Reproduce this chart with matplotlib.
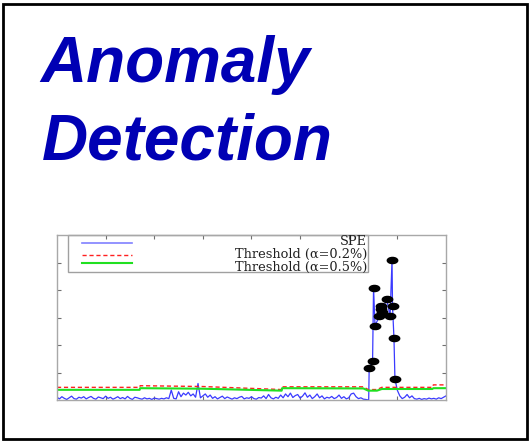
import matplotlib
matplotlib.use("Agg")
import matplotlib.pyplot as plt
from matplotlib.patches import Rectangle
from matplotlib.lines import Line2D
from matplotlib.path import Path
from matplotlib.transforms import Affine2D

# SPE baseline before the fault (x = 0, 5, ..., 635)
spe_normal = [0.10, 0.04, 0.12, 0.06, 0.02, 0.08, 0.14, 0.05, 0.03, 0.10, 0.07, 0.12, 0.04, 0.09,
              0.13, 0.06, 0.03, 0.11, 0.08, 0.05, 0.14, 0.06, 0.10, 0.03, 0.07, 0.12, 0.05, 0.09,
              0.04, 0.13, 0.06, 0.02, 0.10, 0.08,
              0.05, 0.03, 0.08, 0.04, 0.06, 0.02, 0.07, 0.05, 0.03, 0.06, 0.04, 0.08, 0.05, 0.36,
              0.06, 0.04, 0.30, 0.12, 0.25, 0.18, 0.28, 0.15, 0.22, 0.10, 0.60, 0.08,
              0.15, 0.22, 0.10, 0.18, 0.06, 0.12, 0.04, 0.09, 0.14, 0.05, 0.11, 0.07, 0.03, 0.08,
              0.05, 0.10, 0.13, 0.04, 0.08, 0.06, 0.12, 0.05, 0.03, 0.09, 0.07, 0.15, 0.05, 0.20,
              0.08, 0.04, 0.10, 0.06,
              0.18, 0.08, 0.22, 0.12, 0.25, 0.09, 0.16, 0.20, 0.07, 0.14, 0.26, 0.10, 0.18, 0.05,
              0.12, 0.22, 0.08, 0.15, 0.04, 0.10, 0.07, 0.13, 0.05, 0.09, 0.18, 0.06, 0.12, 0.04,
              0.08, 0.22, 0.25, 0.12, 0.05, 0.08, 0.03, 0.02]
normal_x = list(range(0, 640, 5))

# detected anomalies
anom_x = [641, 642, 649, 651, 654, 663, 666, 667, 668, 678, 685, 689, 690, 693, 695]
anom_y = [0.00, 1.15, 1.42, 4.08, 2.70, 3.05, 3.31, 3.42, 3.21, 3.66, 3.05, 5.09, 3.42, 2.24, 0.76]

# after the fault
after_x = list(range(700, 805, 5))
after_y = [0.35, 0.15, 0.05, 0.10, 0.20, 0.08, 0.15, 0.05, 0.03, 0.06, 0.02, 0.05, 0.03, 0.07,
           0.04, 0.06, 0.03, 0.08, 0.05, 0.10, 0.15]

# thresholds
red_x = [0, 170, 171, 300, 462, 463, 630, 640, 658, 668, 772, 774, 800]
red_y = [0.46, 0.46, 0.52, 0.49, 0.38, 0.48, 0.48, 0.38, 0.38, 0.46, 0.46, 0.55, 0.55]
green_x = [0, 170, 171, 300, 462, 463, 630, 640, 658, 668, 772, 774, 800]
green_y = [0.37, 0.37, 0.43, 0.41, 0.34, 0.43, 0.42, 0.34, 0.34, 0.40, 0.40, 0.43, 0.43]

labels = ["SPE", "Threshold (\u03b1=0.2%)", "Threshold (\u03b1=0.5%)"]

fig = plt.figure(figsize=(5.3, 4.42), dpi=100)

# slide frame and title
fig.patches.append(Rectangle((3 / 530, 3 / 442), 524 / 530, 435 / 442, transform=fig.transFigure,
                             fill=False, edgecolor="black", linewidth=2))
title_color = "#0000b4"
fig.text(40 / 530, 1 - 82 / 442, "Anomaly", fontsize=46, fontweight="bold", fontstyle="italic",
         family="Liberation Sans", color=title_color, va="baseline")
fig.text(42 / 530, 1 - 159 / 442, "Detection", fontsize=46, fontweight="bold", fontstyle="italic",
         family="Liberation Sans", color=title_color, va="baseline")

ax = fig.add_axes([57 / 530, 1 - 400 / 442, 389 / 530, 165 / 442])

spe_x = normal_x + anom_x + after_x
spe_y = spe_normal + anom_y + after_y
ax.plot(spe_x, spe_y, color="#3a3aff", lw=0.9)
ax.plot(red_x, red_y, color="#ff2020", lw=1.0, dashes=(3, 2))
ax.plot(green_x, green_y, color="#20e020", lw=1.5)

ell = Path.unit_circle().transformed(Affine2D().scale(1.7, 1.0))
ax.plot(anom_x[1:], anom_y[1:], ls="none", marker=ell, ms=7.5, color="black")

ax.set_xlim(0, 800)
ax.set_ylim(0, 6)
ax.set_xticks(range(100, 800, 100))
ax.set_yticks(range(1, 6))
ax.tick_params(direction="in", length=3, color="#707070", top=True, right=True,
               labelbottom=False, labelleft=False)
for s in ax.spines.values():
    s.set_color("#a8a8a8")
    s.set_linewidth(1.0)

# MATLAB-style legend, text right aligned
ax.add_patch(Rectangle((0.028, 0.776), 0.772, 0.224, transform=ax.transAxes, fill=False,
                       edgecolor="#a0a0a0", lw=1.0, clip_on=False))
line_rows = [0.95, 0.879, 0.828]
text_rows = [0.94, 0.861, 0.782]
styles = [dict(color="#8080ff", lw=1.2), dict(color="#ff2020", lw=1.0, dashes=(3, 2)),
          dict(color="#20e020", lw=1.5)]
for ly, ty, lab, st in zip(line_rows, text_rows, labels, styles):
    ax.add_line(Line2D([0.064, 0.193], [ly, ly], transform=ax.transAxes, **st))
    ax.text(0.797, ty, lab, transform=ax.transAxes, ha="right", va="baseline",
            fontsize=9.3, family="DejaVu Serif", color="#202020")

fig.savefig("out.png", dpi=100)
